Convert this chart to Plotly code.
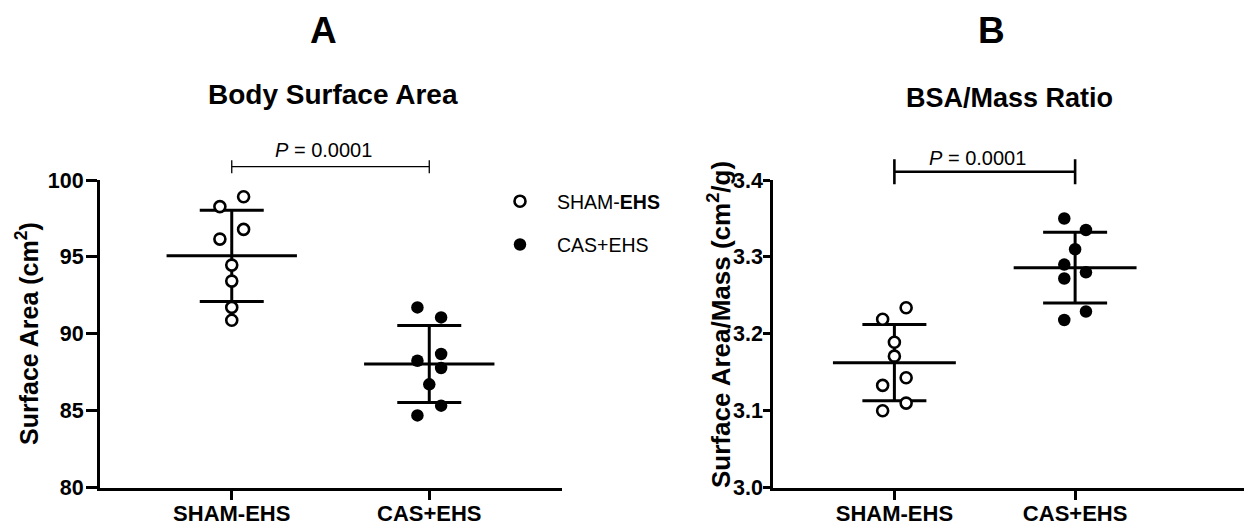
import plotly.graph_objects as go

# ---------------- data ----------------
groups = ["SHAM-EHS", "CAS+EHS"]

bsa_sham = [98.91, 98.27, 96.79, 96.16, 94.47, 93.43, 91.72, 90.88]
bsa_cas = [91.72, 91.07, 88.69, 88.25, 87.78, 86.72, 85.33, 84.70]
bsa_mean = [95.07, 88.04]
bsa_sd = [2.96, 2.50]

ratio_sham = [3.234, 3.219, 3.189, 3.171, 3.143, 3.133, 3.110, 3.100]
ratio_cas = [3.350, 3.335, 3.310, 3.290, 3.280, 3.272, 3.229, 3.218]
ratio_mean = [3.1625, 3.286]
ratio_sd = [0.0495, 0.046]

# horizontal scatter offsets (category units)
jit_bsa_sham = [0.06, -0.06, 0.06, -0.06, 0, 0, 0, 0]
jit_bsa_cas = [-0.06, 0.06, 0.06, -0.06, 0.06, 0, 0.06, -0.06]
jit_ratio_sham = [0.065, -0.065, 0, 0, 0.065, -0.065, 0.065, -0.065]
jit_ratio_cas = [-0.06, 0.06, 0, -0.06, 0.06, -0.06, 0.06, -0.06]

p_text = "<i>P</i> = 0.0001"

yticks_a = [80, 85, 90, 95, 100]
yticks_b = [3.0, 3.1, 3.2, 3.3, 3.4]

FONT = "Liberation Sans, Arial, sans-serif"
PAGE_OFF = 8            # default body margin of the html page
W, H = 1252 - PAGE_OFF, 525 - PAGE_OFF


def fx(X):
    return (X - PAGE_OFF) / W


def fy(Y):
    return 1 - (Y - PAGE_OFF) / H


fig = go.Figure()


def add_panel(xa, ya, sham, cas, jsham, jcas, means, sds, half, legend):
    for i in range(2):
        fig.add_trace(go.Scatter(
            x=[i - half, i + half], y=[means[i], means[i]], mode="lines",
            line=dict(color="black", width=3), showlegend=False,
            hoverinfo="skip", xaxis=xa, yaxis=ya))
        fig.add_trace(go.Scatter(
            x=[i], y=[means[i]], mode="markers",
            marker=dict(size=1, color="rgba(0,0,0,0)"),
            error_y=dict(type="data", array=[sds[i]], symmetric=True,
                         color="black", thickness=3, width=32),
            showlegend=False, hoverinfo="skip", xaxis=xa, yaxis=ya))
    fig.add_trace(go.Scatter(
        x=[0 + j for j in jsham], y=sham, mode="markers", name="SHAM-<b>EHS</b>",
        marker=dict(symbol="circle", size=11, color="white",
                    line=dict(color="black", width=2.6)),
        showlegend=legend, legendgroup="g1", xaxis=xa, yaxis=ya, cliponaxis=False))
    fig.add_trace(go.Scatter(
        x=[1 + j for j in jcas], y=cas, mode="markers", name="CAS+EHS",
        marker=dict(symbol="circle", size=12.5, color="black",
                    line=dict(color="black", width=0)),
        showlegend=legend, legendgroup="g2", xaxis=xa, yaxis=ya, cliponaxis=False))


add_panel("x", "y", bsa_sham, bsa_cas, jit_bsa_sham, jit_bsa_cas,
          bsa_mean, bsa_sd, 0.33, True)
add_panel("x2", "y2", ratio_sham, ratio_cas, jit_ratio_sham, jit_ratio_cas,
          ratio_mean, ratio_sd, 0.34, False)

ydom = [fy(487.7), fy(180)]
axis_common = dict(showgrid=False, zeroline=False, showline=True, linecolor="black",
                   linewidth=3, ticks="outside", tickwidth=3, tickcolor="black",
                   automargin=False)
xtickfont = dict(family=FONT, size=22, color="black", weight="bold")
ytickfont = dict(family=FONT, size=21.5, color="black", weight="bold")

fig.update_layout(
    width=W, height=H, margin=dict(l=0, r=0, t=0, b=0, autoexpand=False),
    paper_bgcolor="white", plot_bgcolor="white",
    font=dict(family=FONT, color="black"),
    xaxis=dict(domain=[fx(100), fx(562)], range=[-0.667, 1.672], anchor="y",
               tickmode="array", tickvals=[0, 1], ticktext=groups, ticklen=9,
               ticklabelstandoff=-5, tickfont=xtickfont, **axis_common),
    yaxis=dict(domain=ydom, range=[80, 100], anchor="x", tickmode="array",
               tickvals=yticks_a, ticklen=11, ticklabelstandoff=-2,
               tickfont=ytickfont, **axis_common),
    xaxis2=dict(domain=[fx(773.3), fx(1245)], range=[-0.67, 1.94], anchor="y2",
                tickmode="array", tickvals=[0, 1], ticktext=groups, ticklen=9,
                ticklabelstandoff=-5, tickfont=xtickfont, **axis_common),
    yaxis2=dict(domain=ydom, range=[3.0, 3.4], anchor="x2", tickmode="array",
                tickvals=yticks_b, ticktext=[f"{v:.1f}" for v in yticks_b],
                ticklen=7, ticklabelstandoff=-4, tickfont=ytickfont, **axis_common),
    showlegend=True,
    legend=dict(x=fx(483), y=fy(182), xanchor="left", yanchor="top",
                font=dict(family=FONT, size=19.5, color="black"),
                itemwidth=64, tracegroupgap=15, bgcolor="rgba(0,0,0,0)"),
)


def bracket(xref, y_line, half_tick, lw):
    yl = fy(y_line)
    ht = half_tick / H
    fig.add_shape(type="line", xref=xref, yref="paper", x0=0, x1=1, y0=yl, y1=yl,
                  line=dict(color="black", width=lw))
    for xv in (0, 1):
        fig.add_shape(type="line", xref=xref, yref="paper", x0=xv, x1=xv,
                      y0=yl - ht, y1=yl + ht, line=dict(color="black", width=lw))


bracket("x", 166.7, 6.5, 1.3)
bracket("x2", 171.7, 12.5, 2.6)

ann = []


def txt(x, y, s, size, bold=False, angle=0):
    ann.append(dict(x=fx(x), y=fy(y), xref="paper", yref="paper", text=s,
                    showarrow=False, xanchor="center", yanchor="middle",
                    textangle=angle,
                    font=dict(family=FONT, size=size, color="black",
                              weight="bold" if bold else "normal")))


txt(323.5, 31, "A", 37, True)
txt(991, 31, "B", 37, True)
txt(333, 95, "Body Surface Area", 28, True)
txt(1009, 98, "BSA/Mass Ratio", 27, True)
txt(323.5, 150, p_text, 20)
txt(977, 158, p_text, 20)
txt(27, 334, "Surface Area (cm<sup>2</sup>)", 25, True, -90)
txt(719, 325, "Surface Area/Mass (cm<sup>2</sup>/g)", 26, True, -90)
fig.update_layout(annotations=ann)

fig.write_html("out.html")
